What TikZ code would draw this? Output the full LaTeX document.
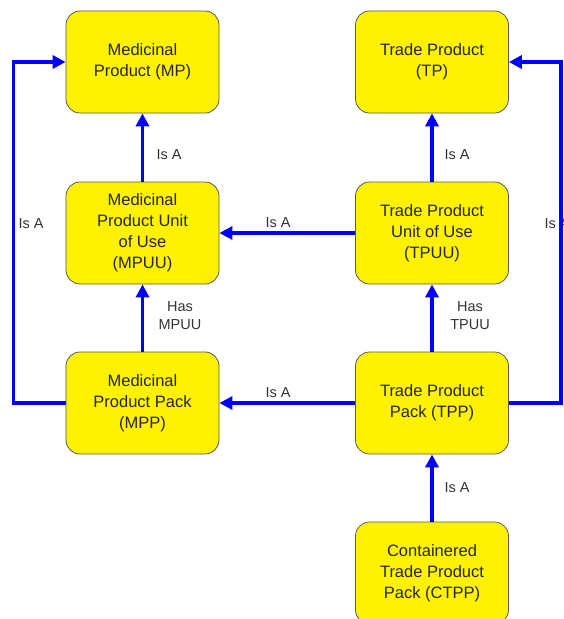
\documentclass[tikz,border=0pt]{standalone}
\usepackage{fontspec}
\setmainfont{Liberation Sans}
\usetikzlibrary{arrows.meta}

\begin{document}
\begin{tikzpicture}[x=1pt,y=-1pt,
  concept/.style={draw=black!65, line width=0.8pt, fill=yellow, rounded corners=14pt,
    minimum width=153pt, minimum height=102pt, align=center,
    font=\fontsize{16.5}{21}\selectfont, text=black!85},
  rel/.style={draw=blue, line width=3.5pt, -{Triangle[length=13pt,width=13pt]}},
  lbl/.style={font=\fontsize{14.5}{18}\selectfont, text=black!80, align=center}]

  % canvas
  \useasboundingbox (0,0) rectangle (563,619);
  \clip (0,0) rectangle (563,619);

  % concepts
  \node[concept] (mp)   at (142.5,62)  {Medicinal\\Product (MP)};
  \node[concept] (tp)   at (432,62)    {Trade Product\\(TP)};
  \node[concept] (mpuu) at (142.5,233) {Medicinal\\Product Unit\\of Use\\(MPUU)};
  \node[concept] (tpuu) at (432,233)   {Trade Product\\Unit of Use\\(TPUU)};
  \node[concept] (mpp)  at (142.5,403) {Medicinal\\Product Pack\\(MPP)};
  \node[concept] (tpp)  at (432,403)   {Trade Product\\Pack (TPP)};
  \node[concept] (ctpp) at (432,573)   {Containered\\Trade Product\\Pack (CTPP)};

  % relationship labels
  \node[lbl] (l1) at (31,224)  {Is A};
  \node[lbl] (l2) at (169,155) {Is A};
  \node[lbl] (l3) at (278,223) {Is A};
  \node[lbl] (l4) at (180,316) {Has\\MPUU};
  \node[lbl] (l5) at (457,155) {Is A};
  \node[lbl] (l6) at (470,316) {Has\\TPUU};
  \node[lbl] (l7) at (278,393) {Is A};
  \node[lbl] (l8) at (457,488) {Is A};
  \node[lbl, anchor=west] (l9) at (541,224) {Is A};

  % relationships
  \draw[rel] (mpuu) -- (mp);
  \draw[rel] (mpp)  -- (mpuu);
  \draw[rel] (tpuu) -- (tp);
  \draw[rel] (tpp)  -- (tpuu);
  \draw[rel] (ctpp) -- (tpp);
  \draw[rel] (tpuu) -- (mpuu);
  \draw[rel] (tpp)  -- (mpp);
  \draw[rel] (mpp.west) -- ++(-52,0) |- (mp.west);
  \draw[rel] (tpp.east) -- ++(52,0) |- (tp.east);
\end{tikzpicture}
\end{document}
